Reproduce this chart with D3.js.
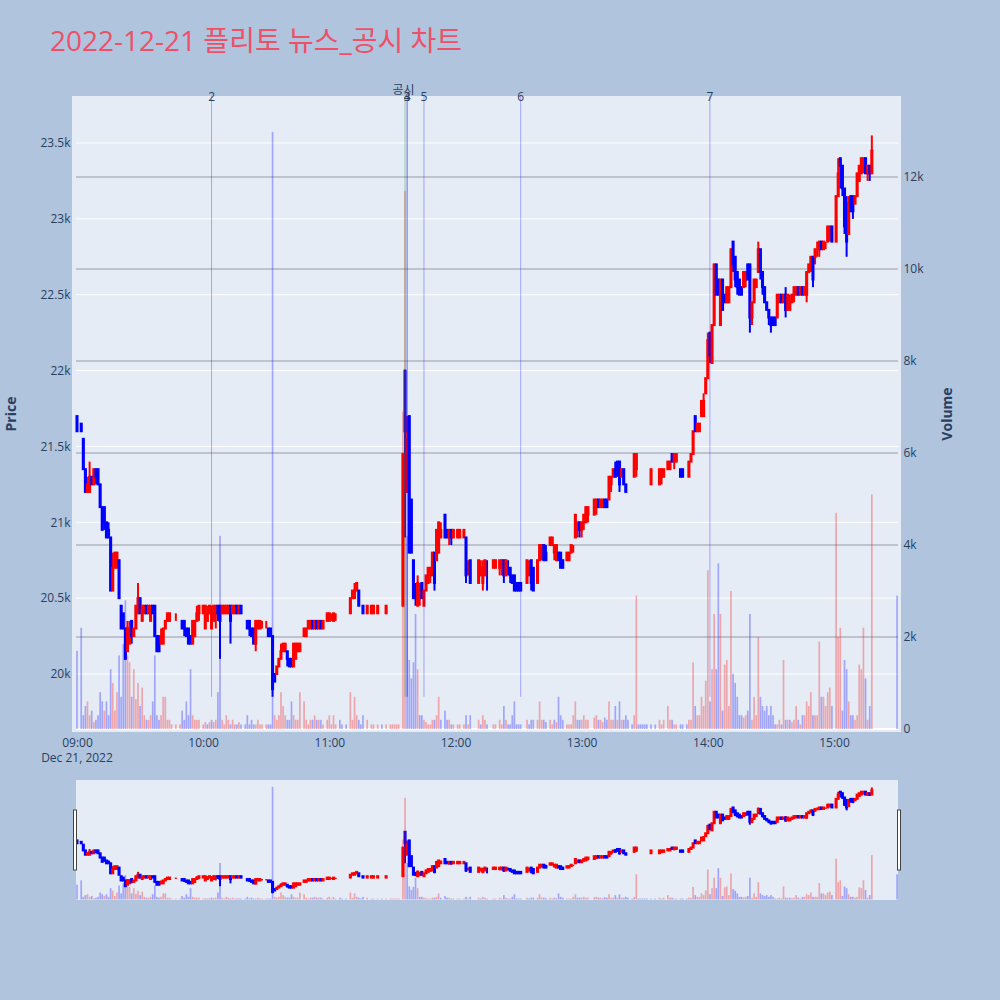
<!DOCTYPE html>
<html><head><meta charset="utf-8">
<script src="https://cdn.jsdelivr.net/npm/d3@7/dist/d3.min.js"></script>
<style>
html,body{margin:0;padding:0;background:#B0C4DE;}
svg{display:block;font-family:"Open Sans","Noto Sans CJK KR",sans-serif;}
</style></head><body>
<svg id="chart" width="1000" height="1000"></svg>
<script>
const times = [
"09:00","09:02","09:03","09:04","09:05","09:06","09:07","09:08","09:09","09:10",
"09:11","09:12","09:13","09:14","09:15","09:16","09:17","09:18","09:19","09:20",
"09:21","09:22","09:23","09:24","09:25","09:26","09:27","09:28","09:29","09:30",
"09:31","09:32","09:33","09:34","09:35","09:36","09:37","09:38","09:39","09:40",
"09:41","09:42","09:43","09:44","09:45","09:47","09:49","09:50","09:51","09:52",
"09:53","09:54","09:55","09:56","09:57","09:58","10:00","10:01","10:02","10:03",
"10:04","10:05","10:06","10:07","10:08","10:09","10:10","10:11","10:12","10:13",
"10:14","10:15","10:16","10:17","10:18","10:20","10:21","10:22","10:23","10:24",
"10:25","10:26","10:27","10:28","10:30","10:31","10:32","10:33","10:34","10:35",
"10:36","10:37","10:38","10:39","10:40","10:41","10:42","10:43","10:44","10:45",
"10:46","10:48","10:49","10:50","10:51","10:52","10:53","10:54","10:55","10:56",
"10:57","10:59","11:00","11:01","11:02","11:03","11:05","11:06","11:08","11:10",
"11:11","11:12","11:13","11:14","11:15","11:16","11:18","11:20","11:21","11:23",
"11:25","11:27","11:29","11:30","11:31","11:32","11:33","11:35","11:36","11:37",
"11:38","11:39","11:40","11:41","11:42","11:43","11:44","11:45","11:46","11:47",
"11:48","11:49","11:50","11:51","11:52","11:53","11:55","11:56","11:57","11:58",
"11:59","12:01","12:02","12:04","12:05","12:06","12:07","12:11","12:12","12:13",
"12:14","12:15","12:18","12:19","12:21","12:22","12:23","12:24","12:25","12:26",
"12:27","12:28","12:29","12:30","12:31","12:34","12:35","12:36","12:37","12:39",
"12:40","12:41","12:42","12:43","12:45","12:46","12:47","12:48","12:49","12:50",
"12:51","12:53","12:54","12:55","12:56","12:57","12:58","12:59","13:00","13:01",
"13:02","13:03","13:06","13:07","13:08","13:09","13:10","13:11","13:12","13:13",
"13:14","13:15","13:16","13:17","13:18","13:19","13:20","13:21","13:22","13:24",
"13:25","13:26","13:27","13:28","13:29","13:30","13:31","13:33","13:35","13:37",
"13:38","13:39","13:41","13:42","13:43","13:44","13:45","13:47","13:48","13:50",
"13:51","13:52","13:53","13:54","13:55","13:56","13:57","13:58","13:59","14:00",
"14:01","14:02","14:03","14:04","14:05","14:06","14:07","14:08","14:09","14:10",
"14:11","14:12","14:13","14:14","14:15","14:16","14:17","14:18","14:19","14:20",
"14:21","14:22","14:23","14:24","14:25","14:26","14:27","14:28","14:29","14:30",
"14:31","14:32","14:33","14:34","14:35","14:36","14:37","14:38","14:39","14:40",
"14:41","14:42","14:43","14:44","14:45","14:46","14:47","14:48","14:49","14:50",
"14:51","14:52","14:53","14:54","14:55","14:56","14:57","14:58","14:59","15:01",
"15:02","15:03","15:04","15:05","15:06","15:07","15:08","15:09","15:10","15:11",
"15:12","15:13","15:14","15:15","15:16","15:17","15:18","15:30"];

const opens = [
21700,21650,21550,21350,21200,21200,21300,21250,21350,21350,
21250,21100,21100,21000,20950,20900,20550,20700,20700,20750,
20450,20400,20300,20150,20200,20350,20250,20300,20400,20500,
20350,20400,20450,20400,20350,20450,20450,20250,20250,20200,
20200,20300,20350,20350,20400,20400,20400,20350,20350,20300,
20300,20250,20200,20250,20350,20400,20400,20300,20350,20400,
20300,20350,20400,20450,20450,20400,20400,20400,20400,20450,
20400,20400,20450,20400,20450,20400,20350,20350,20300,20300,
20200,20300,20300,20350,20350,20300,20300,20250,20000,20000,
20050,20100,20150,20150,20150,20100,20100,20050,20100,20150,
20150,20250,20250,20300,20300,20350,20300,20350,20300,20350,
20300,20350,20350,20400,20350,20400,20350,20350,20350,20400,
20500,20500,20550,20550,20450,20450,20400,20400,20400,20400,
20350,20400,20450,20450,20450,20450,20450,20450,22000,21200,
21700,21150,20750,20550,20450,20500,20600,20450,20550,20600,
20650,20650,20800,20750,20800,20900,21050,20950,20900,20950,
20900,20900,20900,20900,20900,20700,20750,20600,20650,20600,
20650,20700,20700,20700,20700,20700,20750,20650,20700,20700,
20650,20650,20600,20600,20600,20600,20650,20750,20700,20600,
20750,20800,20850,20800,20850,20850,20800,20750,20800,20800,
20750,20750,20750,20800,20850,20900,20950,21000,20950,21000,
21000,21050,21050,21100,21150,21100,21100,21150,21150,21150,
21250,21300,21350,21400,21400,21300,21350,21250,21200,21150,
21300,21350,21400,21400,21400,21400,21400,21250,21300,21250,
21300,21300,21350,21350,21450,21400,21400,21350,21350,21300,
21300,21400,21450,21700,21600,21600,21700,21700,21850,21950,
22250,22050,22300,22700,22600,22300,22600,22500,22450,22450,
22550,22850,22750,22650,22600,22550,22550,22600,22700,22700,
22350,22450,22550,22650,22800,22650,22550,22450,22400,22350,
22350,22350,22350,22450,22500,22450,22500,22400,22400,22450,
22500,22500,22550,22500,22550,22500,22500,22650,22700,22750,
22750,22800,22800,22850,22800,22850,22850,22900,22950,22850,
23150,23400,23350,23200,23100,22900,23150,23150,23100,23150,
23250,23300,23350,23400,23300,23350,23300,23350];

const highs = [
21700,21650,21550,21350,21300,21400,21300,21350,21350,21350,
21250,21100,21100,21000,21000,20900,20800,20800,20800,20750,
20450,20400,20300,20350,20350,20350,20300,20450,20600,20500,
20450,20450,20450,20450,20450,20450,20450,20250,20250,20300,
20300,20350,20400,20400,20400,20400,20400,20350,20350,20300,
20300,20250,20350,20350,20450,20450,20450,20450,20450,20450,
20450,20450,20450,20450,20450,20450,20450,20450,20450,20450,
20450,20450,20450,20450,20450,20400,20350,20350,20300,20300,
20350,20350,20350,20350,20350,20300,20300,20250,20000,20050,
20100,20200,20200,20200,20150,20100,20100,20200,20200,20200,
20200,20300,20300,20350,20350,20350,20350,20350,20350,20350,
20350,20400,20400,20400,20400,20400,20350,20350,20350,20500,
20550,20600,20600,20550,20450,20450,20450,20450,20450,20450,
20350,20450,20450,20450,20450,20450,20450,21450,22000,21700,
21700,21150,20750,20600,20650,20600,20600,20550,20650,20700,
20700,20800,20800,20950,21000,21000,21050,20950,20950,20950,
20950,20950,20950,20950,20900,20750,20750,20750,20750,20750,
20750,20750,20750,20750,20750,20750,20750,20750,20750,20700,
20650,20650,20600,20600,20600,20750,20750,20750,20700,20750,
20850,20850,20850,20850,20900,20900,20850,20850,20800,20800,
20750,20800,20800,20850,20850,21050,21000,21000,21000,21050,
21100,21100,21150,21150,21150,21150,21150,21150,21150,21300,
21300,21350,21400,21400,21400,21350,21350,21250,21200,21150,
21450,21450,21400,21400,21400,21400,21400,21350,21300,21350,
21350,21350,21400,21400,21450,21450,21450,21350,21350,21300,
21400,21450,21600,21700,21650,21650,21800,21850,21950,22250,
22250,22300,22700,22700,22600,22600,22600,22500,22550,22550,
22800,22850,22750,22650,22600,22550,22650,22650,22700,22700,
22450,22600,22600,22850,22800,22650,22550,22450,22400,22350,
22350,22350,22500,22500,22500,22500,22550,22500,22500,22500,
22550,22550,22550,22550,22550,22550,22650,22700,22750,22750,
22800,22850,22850,22850,22850,22850,22950,22950,22950,23150,
23400,23400,23350,23200,23150,23150,23150,23150,23150,23300,
23350,23400,23400,23400,23350,23350,23550,23350];

const lows = [
21600,21600,21350,21200,21200,21200,21250,21250,21250,21250,
21100,20950,20950,20900,20900,20550,20550,20700,20700,20500,
20300,20300,20100,20150,20200,20200,20250,20300,20400,20400,
20350,20400,20400,20400,20350,20400,20250,20150,20150,20200,
20200,20300,20350,20350,20400,20350,20400,20300,20250,20250,
20200,20200,20200,20250,20350,20350,20400,20300,20350,20400,
20300,20350,20300,20350,20100,20400,20400,20400,20400,20200,
20400,20400,20400,20400,20400,20400,20300,20250,20250,20200,
20150,20300,20300,20300,20300,20250,20250,19850,19950,20000,
20050,20100,20150,20150,20050,20050,20050,20050,20100,20150,
20150,20250,20250,20300,20300,20300,20300,20300,20300,20300,
20300,20350,20350,20350,20350,20350,20350,20350,20350,20400,
20500,20500,20550,20450,20450,20400,20400,20400,20400,20400,
20350,20400,20450,20450,20450,20450,20450,20450,20900,21200,
20800,20800,20500,20450,20450,20450,20500,20450,20550,20600,
20600,20650,20550,20750,20800,20900,20900,20900,20850,20850,
20900,20900,20900,20900,20600,20650,20600,20600,20650,20550,
20650,20550,20700,20700,20650,20650,20600,20650,20650,20600,
20600,20550,20550,20550,20550,20600,20650,20550,20550,20600,
20750,20750,20750,20750,20850,20850,20750,20750,20750,20700,
20700,20750,20750,20800,20800,20900,20900,20900,20900,20950,
21000,21000,21050,21050,21100,21100,21100,21100,21100,21150,
21200,21300,21300,21300,21200,21300,21250,21200,21200,21150,
21300,21300,21400,21400,21400,21400,21400,21250,21300,21250,
21250,21300,21350,21350,21400,21350,21400,21300,21300,21300,
21300,21400,21450,21600,21600,21600,21700,21700,21850,21950,
22050,22050,22300,22500,22500,22300,22400,22450,22450,22450,
22550,22650,22550,22500,22500,22500,22550,22550,22600,22250,
22300,22450,22550,22650,22600,22500,22450,22400,22300,22250,
22300,22300,22350,22450,22450,22450,22350,22400,22400,22450,
22450,22500,22500,22500,22500,22500,22450,22650,22650,22550,
22700,22750,22750,22800,22800,22800,22850,22850,22850,22850,
23150,23200,23150,22900,22750,22900,23050,23000,23100,23150,
23250,23300,23300,23300,23250,23250,23300,23350];

const closes = [
21600,21600,21350,21200,21250,21300,21250,21350,21300,21250,
21100,20950,21000,20900,20900,20550,20700,20800,20800,20500,
20300,20300,20100,20300,20300,20250,20300,20450,20500,20400,
20450,20450,20400,20450,20450,20400,20250,20150,20150,20250,
20300,20350,20400,20400,20400,20400,20400,20300,20300,20250,
20200,20200,20350,20350,20400,20450,20450,20450,20400,20450,
20400,20450,20450,20400,20350,20450,20450,20450,20450,20350,
20450,20450,20400,20450,20400,20400,20300,20300,20250,20200,
20350,20350,20350,20350,20350,20250,20250,19900,19950,20050,
20100,20150,20200,20200,20100,20050,20050,20200,20200,20200,
20200,20300,20300,20350,20350,20300,20350,20300,20350,20300,
20350,20400,20400,20400,20400,20400,20350,20350,20350,20500,
20550,20550,20600,20450,20450,20400,20450,20450,20450,20450,
20350,20450,20450,20450,20450,20450,20450,21450,21600,21550,
20800,20800,20500,20500,20600,20550,20500,20550,20650,20700,
20700,20800,20600,20950,21000,20950,20900,20900,20950,20900,
20950,20950,20950,20950,20650,20700,20600,20750,20700,20700,
20750,20700,20750,20750,20750,20750,20650,20750,20700,20650,
20600,20550,20550,20550,20550,20750,20700,20600,20550,20750,
20850,20850,20750,20750,20900,20900,20850,20850,20750,20700,
20700,20800,20800,20850,20850,21050,21000,20950,21000,21050,
21100,21100,21150,21150,21100,21150,21150,21100,21100,21300,
21300,21350,21300,21350,21250,21350,21250,21200,21200,21150,
21450,21450,21400,21400,21400,21400,21400,21350,21300,21350,
21350,21350,21400,21400,21400,21450,21450,21300,21300,21300,
21400,21450,21600,21600,21650,21650,21800,21800,21950,22200,
22100,22300,22700,22500,22500,22600,22400,22450,22550,22550,
22800,22700,22600,22550,22500,22500,22650,22650,22600,22350,
22450,22600,22600,22800,22650,22550,22450,22400,22350,22300,
22300,22300,22500,22500,22450,22500,22400,22500,22450,22500,
22550,22550,22500,22550,22500,22550,22650,22700,22750,22600,
22800,22800,22850,22800,22850,22850,22950,22950,22850,23150,
23300,23350,23200,22950,22850,23100,23050,23050,23150,23300,
23350,23400,23400,23300,23350,23300,23450,23350];

const volumes = [
1700,2200,300,500,600,300,400,150,200,300,
800,600,400,600,300,1300,1000,400,800,1600,
700,1850,2800,1600,1450,700,1300,650,1000,500,
900,300,200,200,300,600,1600,300,200,300,
700,700,200,200,100,100,100,400,200,600,
300,1300,300,200,200,200,100,150,100,150,
200,150,200,800,4200,200,100,300,200,100,
200,100,100,150,100,100,300,100,200,100,
100,200,100,100,100,100,100,12980,300,200,
300,800,500,300,200,200,600,300,200,200,
800,600,200,100,200,200,300,200,200,200,
100,200,300,100,300,100,200,100,100,800,
200,700,300,200,100,300,200,100,100,100,
100,100,100,100,100,100,100,6900,11700,4200,
1500,1100,1450,2500,1300,300,300,200,150,100,
100,200,200,300,700,200,400,200,200,100,
100,100,100,100,300,100,300,200,100,300,
200,100,100,100,200,100,500,200,100,100,
300,600,100,100,100,200,100,200,200,200,
600,200,200,150,200,100,200,150,700,300,
200,100,100,100,300,600,200,200,200,300,
200,200,250,300,200,200,150,250,200,600,
200,200,500,200,600,200,200,300,200,100,
300,2900,100,100,100,100,100,100,100,200,
100,200,500,200,200,100,100,100,100,100,
200,200,1450,500,300,300,700,500,1050,3450,
600,1300,2500,1300,3600,2500,400,1400,1500,500,
3000,1200,1000,700,300,300,250,300,400,2500,
200,700,300,2000,700,500,400,500,300,500,
300,100,100,200,100,1500,200,200,200,150,
200,500,200,100,300,300,600,500,800,300,
300,300,1900,700,700,500,800,900,500,4700,
2000,2200,400,1500,1300,600,300,300,200,300,
1400,1300,2200,1100,200,500,5100,2900];

const priceTicks = [20000,20500,21000,21500,22000,22500,23000,23500];
const volumeTicks = [0,2000,4000,6000,8000,10000,12000];
const timeTicks = ["09:00","10:00","11:00","12:00","13:00","14:00","15:00"];
const newsTimes = ["10:04","11:36","11:37","11:37","11:45","12:31","14:01"];
const newsLabels = ["2","공시","3","4","5","6","7"];
const newsKinds = ["news","disclosure","news","news","news","news","news"];
const titleText = "2022-12-21 플리토 뉴스_공시 차트";
const dateLabel = "Dec 21, 2022";

// ---------- layout ----------
const W = 1000, H = 1000;
const plotBg = {l:72, r:901, t:96, b:732};
const plot = {l:76, r:898, t:96, b:732};
const slider = {l:76, r:898, t:780, b:900};
const FONT = '"Open Sans","Noto Sans CJK KR",sans-serif';
const TXT = "#2a3f5f";
const UP = "#FF0000", DOWN = "#0000FF";
const UPV = "rgba(255,0,0,0.3)", DOWNV = "rgba(0,0,255,0.3)";

const day = "2022-12-21";
const parse = d3.timeParse("%Y-%m-%d %H:%M");
const T = s => parse(day + " " + s);

const n = Math.min(times.length, opens.length, highs.length, lows.length, closes.length, volumes.length);
const data = [];
let prevDir = -1;
for (let i = 0; i < n; i++) {
  const d = {t: T(times[i]), o: opens[i], h: highs[i], l: lows[i], c: closes[i], v: volumes[i]};
  const pc = i > 0 ? closes[i-1] : d.o;
  d.dir = d.c > d.o ? 1 : d.c < d.o ? -1 : (d.c > pc ? 1 : d.c < pc ? -1 : prevDir);
  prevDir = d.dir;
  d.vdir = i === 0 ? d.dir : (d.c > pc ? 1 : d.c < pc ? -1 : d.dir);
  data.push(d);
}

const x = d3.scaleTime().domain([T("09:00"), T("15:00")]).range([77, 834]);
const y = d3.scaleLinear().domain([20000, 23500]).range([674, 143]);
const yv = d3.scaleLinear().domain([0, 12000]).range([729, 177]);
const ys = d3.scaleLinear().domain([y.invert(plotBg.b), y.invert(plotBg.t)]).range([slider.b, slider.t]);
const yvs = d3.scaleLinear().domain([yv.invert(plotBg.b), yv.invert(plotBg.t)]).range([slider.b, slider.t]);

const step = x(T("09:01")) - x(T("09:00"));
const bodyW = step * 0.5;
const barW = step * 0.8;

const svg = d3.select("#chart");
svg.append("rect").attr("width", W).attr("height", H).attr("fill", "#B0C4DE");

const defs = svg.append("defs");
defs.append("clipPath").attr("id", "clipMain").append("rect")
  .attr("x", plotBg.l).attr("y", plotBg.t).attr("width", plotBg.r - plotBg.l).attr("height", plotBg.b - plotBg.t);
defs.append("clipPath").attr("id", "clipSlider").append("rect")
  .attr("x", slider.l).attr("y", slider.t).attr("width", slider.r - slider.l).attr("height", slider.b - slider.t);

// title
svg.append("text").attr("x", 50).attr("y", 50.5).attr("font-size", 28).attr("fill", "#EE5068")
  .style("font-family", FONT).text(titleText);

// plot background
svg.append("rect").attr("x", plotBg.l).attr("y", plotBg.t).attr("width", plotBg.r - plotBg.l)
  .attr("height", plotBg.b - plotBg.t).attr("fill", "#E5ECF6");

// price grid (white)
svg.append("g").selectAll("line").data(priceTicks).join("line")
  .attr("x1", plot.l).attr("x2", plot.r).attr("y1", d => y(d)).attr("y2", d => y(d))
  .attr("stroke", "#ffffff").attr("stroke-width", 1);
// volume grid (gray)
svg.append("g").selectAll("line").data(volumeTicks.filter(v => v > 0)).join("line")
  .attr("x1", plot.l).attr("x2", plot.r).attr("y1", d => yv(d)).attr("y2", d => yv(d))
  .attr("stroke", "rgba(90,90,100,0.55)").attr("stroke-width", 1.2);
// volume zero line
svg.append("line").attr("x1", plot.l).attr("x2", plot.r).attr("y1", yv(0)).attr("y2", yv(0))
  .attr("stroke", "#ffffff").attr("stroke-width", 2);

function drawSeries(g, yP, yV) {
  const c = g.append("g");
  c.selectAll("line.wick").data(data).join("line").attr("class", "wick")
    .attr("x1", d => x(d.t)).attr("x2", d => x(d.t))
    .attr("y1", d => yP(d.h)).attr("y2", d => yP(d.l))
    .attr("stroke", d => d.dir > 0 ? UP : DOWN).attr("stroke-width", 2);
  c.selectAll("rect.body").data(data).join("rect").attr("class", "body")
    .attr("x", d => x(d.t) - bodyW / 2).attr("width", bodyW)
    .attr("y", d => Math.min(yP(d.o), yP(d.c))).attr("height", d => Math.abs(yP(d.o) - yP(d.c)))
    .attr("fill", d => d.dir > 0 ? UP : DOWN)
    .attr("stroke", d => d.dir > 0 ? UP : DOWN).attr("stroke-width", 2);
  const v = g.append("g");
  v.selectAll("rect").data(data).join("rect")
    .attr("x", d => x(d.t) - barW / 2).attr("width", barW)
    .attr("y", d => yV(d.v)).attr("height", d => yV(0) - yV(d.v))
    .attr("fill", d => d.vdir > 0 ? UPV : DOWNV);
}

const mainG = svg.append("g").attr("clip-path", "url(#clipMain)");
drawSeries(mainG, y, yv);

// news lines
const newsG = svg.append("g").attr("clip-path", "url(#clipMain)");
const minLow = d3.min(data, d => d.l);
newsG.selectAll("line").data(newsTimes).join("line")
  .attr("x1", d => x(T(d))).attr("x2", d => x(T(d)))
  .attr("y1", y(minLow)).attr("y2", plotBg.t)
  .attr("stroke", (d, i) => newsKinds[i] === "disclosure" ? "rgba(0,160,0,0.4)" : "rgba(0,0,255,0.3)")
  .attr("stroke-width", 1);
svg.append("g").selectAll("text").data(newsTimes).join("text")
  .attr("x", (d, i) => x(T(d)) + (newsKinds[i] === "disclosure" ? -1.5 : 0))
  .attr("y", (d, i) => newsKinds[i] === "disclosure" ? 94 : 100.5)
  .attr("text-anchor", "middle").attr("font-size", 12).attr("fill", TXT)
  .style("font-family", FONT)
  .text((d, i) => newsLabels[i]);

// axes
function styleAxis(g) {
  g.select(".domain").remove();
  g.selectAll(".tick line").remove();
  g.selectAll("text").attr("fill", TXT).attr("font-size", 12).style("font-family", FONT);
}
svg.append("g").attr("transform", `translate(0,${plotBg.b - 2})`)
  .call(d3.axisBottom(x).tickValues(timeTicks.map(T)).tickFormat(d3.timeFormat("%H:%M")).tickSize(0).tickPadding(8))
  .call(styleAxis);
svg.append("text").attr("x", x(T(timeTicks[0]))).attr("y", 762).attr("text-anchor", "middle")
  .attr("font-size", 12).attr("fill", TXT).style("font-family", FONT).text(dateLabel);
svg.append("g").attr("transform", `translate(${plotBg.l},0)`)
  .call(d3.axisLeft(y).tickValues(priceTicks).tickFormat(d3.format("~s")).tickSize(0).tickPadding(1.5))
  .call(styleAxis);
svg.append("g").attr("transform", `translate(${plotBg.r},0)`)
  .call(d3.axisRight(yv).tickValues(volumeTicks).tickFormat(d3.format("~s")).tickSize(0).tickPadding(2.5))
  .call(styleAxis);

// axis titles
const midY = (plotBg.t + plotBg.b) / 2;
svg.append("text").attr("transform", `translate(10,${midY}) rotate(-90)`)
  .attr("text-anchor", "middle").attr("dominant-baseline", "central")
  .attr("font-size", 14).attr("font-weight", "bold").attr("fill", TXT).style("font-family", FONT).text("Price");
svg.append("text").attr("transform", `translate(946,${midY}) rotate(-90)`)
  .attr("text-anchor", "middle").attr("dominant-baseline", "central")
  .attr("font-size", 14).attr("font-weight", "bold").attr("fill", TXT).style("font-family", FONT).text("Volume");

// range slider
svg.append("rect").attr("x", slider.l).attr("y", slider.t).attr("width", slider.r - slider.l)
  .attr("height", slider.b - slider.t).attr("fill", "#E5ECF6");
const sliderG = svg.append("g").attr("clip-path", "url(#clipSlider)");
drawSeries(sliderG, ys, yvs);
const hy = slider.t + (slider.b - slider.t) * 0.25, hh = (slider.b - slider.t) * 0.5;
[slider.l - 2.5, slider.r - 0.5].forEach(hx => {
  svg.append("rect").attr("x", hx).attr("y", hy).attr("width", 3).attr("height", hh)
    .attr("fill", "#ffffff").attr("stroke", "#444").attr("stroke-width", 1);
});
</script>
</body></html>
